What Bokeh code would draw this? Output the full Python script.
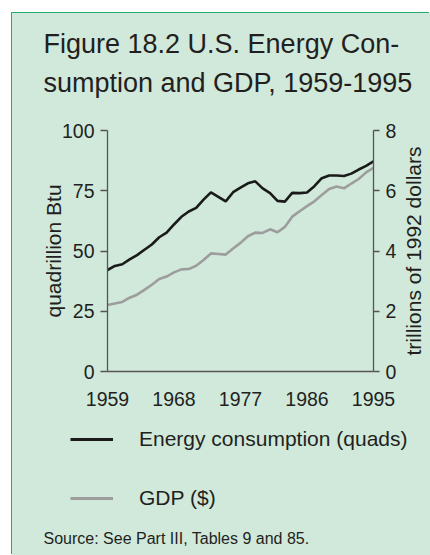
import math
from bokeh.plotting import figure
from bokeh.layouts import column, row
from bokeh.models import (Range1d, LinearAxis, FixedTicker, Legend, LegendItem, Label)
from bokeh.embed import file_html
from bokeh.resources import INLINE

# ---- data ----
years = list(range(1959, 1996))
energy_quads = [42.1, 43.8, 44.5, 46.5, 48.3, 50.5, 52.7, 55.7, 57.6, 61.0,
                64.2, 66.4, 67.9, 71.3, 74.3, 72.5, 70.6, 74.4, 76.3, 78.1,
                78.9, 76.0, 74.0, 70.8, 70.5, 74.1, 74.0, 74.3, 76.9, 80.2,
                81.3, 81.3, 81.1, 82.1, 83.8, 85.3, 87.2]
gdp_trillions = [2.21, 2.26, 2.31, 2.45, 2.55, 2.71, 2.88, 3.07, 3.15, 3.29,
                 3.39, 3.40, 3.51, 3.70, 3.92, 3.90, 3.88, 4.08, 4.27, 4.49,
                 4.61, 4.60, 4.72, 4.62, 4.80, 5.14, 5.32, 5.49, 5.65, 5.86,
                 6.06, 6.14, 6.08, 6.24, 6.39, 6.61, 6.76]
x_ticks = [1959, 1968, 1977, 1986, 1995]
left_ticks = [0, 25, 50, 75, 100]
right_ticks = [0, 2, 4, 6, 8]
title_lines = ["Figure 18.2  U.S. Energy Con-", "sumption and GDP, 1959-1995"]
left_label = "quadrillion Btu"
right_label = "trillions of 1992 dollars"
series_names = ["Energy consumption (quads)", "GDP ($)"]
source_text = "Source:  See Part III, Tables 9 and 85."

# ---- layout / style ----
FONT = "Liberation Sans"
BG = "#d0e9db"
TXT = "#231f20"
AX = "#555555"
C_ENERGY = "#1a1a1a"
C_GDP = "#9d9d9d"
W = 418
W_SIDE = 30
W_MAIN = W - W_SIDE
H_TOP, H_MAIN, H_BOT = 103, 299, 140
FL, FT, FW, FH = 95, 14, 266, 241


def no_align(f):
    if "frame_align" in f.properties():
        f.frame_align = False
    return f


def blank_fig(w, h):
    f = figure(width=w, height=h, output_backend="svg", toolbar_location=None,
               x_range=Range1d(0, w), y_range=Range1d(0, h),
               x_axis_location=None, y_axis_location=None,
               min_border=0)
    f.background_fill_color = BG
    f.border_fill_color = BG
    f.outline_line_color = None
    f.grid.visible = False
    return no_align(f)


# ---- title ----
top = blank_fig(W, H_TOP)
for t, yb in zip(title_lines, [73, 34]):
    top.add_layout(Label(x=31, y=yb, text=t, text_align="left",
                         text_baseline="alphabetic", text_font=FONT,
                         text_font_size="27px", text_color=TXT))

# ---- main chart ----
main = figure(width=W_MAIN, height=H_MAIN, output_backend="svg", toolbar_location=None,
              x_range=Range1d(1959, 1995), y_range=Range1d(0, 100),
              min_border_left=FL, min_border_top=FT,
              min_border_right=W_MAIN - FL - FW, min_border_bottom=H_MAIN - FT - FH)
no_align(main)
main.background_fill_color = BG
main.border_fill_color = BG
main.outline_line_color = None
main.grid.visible = False
main.extra_y_ranges = {"gdp": Range1d(0, 8)}

main.line(years, energy_quads, line_color=C_ENERGY, line_width=2.6)
main.line(years, gdp_trillions, line_color=C_GDP, line_width=2.6, y_range_name="gdp")


def style_axis(ax, size="19.5px"):
    ax.axis_line_color = AX
    ax.axis_line_width = 1.3
    ax.major_tick_line_color = AX
    ax.major_tick_line_width = 1.3
    ax.minor_tick_line_color = None
    ax.major_label_text_font = FONT
    ax.major_label_text_font_size = size
    ax.major_label_text_color = TXT
    ax.axis_label_text_font = FONT
    ax.axis_label_text_font_size = "21px"
    ax.axis_label_text_font_style = "normal"
    ax.axis_label_text_color = TXT


xa = main.xaxis[0]
xa.ticker = FixedTicker(ticks=x_ticks)
style_axis(xa)
xa.major_tick_out = 0
xa.major_tick_in = 0
xa.major_label_standoff = 20

ya = main.yaxis[0]
ya.ticker = FixedTicker(ticks=left_ticks)
style_axis(ya)
ya.major_tick_out = 7
ya.major_tick_in = 0
ya.major_label_standoff = 6
ya.axis_label = left_label
ya.axis_label_standoff = -6

ra = LinearAxis(y_range_name="gdp", ticker=FixedTicker(ticks=right_ticks))
style_axis(ra)
ra.major_tick_out = 6
ra.major_tick_in = 0
ra.major_label_standoff = 6
main.add_layout(ra, "right")

# right axis title, reading bottom-to-top, in a narrow strip beside the chart
side = blank_fig(W_SIDE, H_MAIN)
side.add_layout(Label(x=12.5, y=H_MAIN - FT - FH / 2, text=right_label,
                      angle=math.pi / 2, text_align="center", text_baseline="middle",
                      text_font=FONT, text_font_size="21px", text_color=TXT))

# ---- legend + source ----
bot = blank_fig(W, H_BOT)
# legend renderers carry the series but fall outside this strip's ranges
l1 = bot.line(years, energy_quads, line_color=C_ENERGY, line_width=3)
l2 = bot.line(years, gdp_trillions, line_color=C_GDP, line_width=3)
legend = Legend(items=[LegendItem(label=series_names[0], renderers=[l1]),
                       LegendItem(label=series_names[1], renderers=[l2])],
                location=(58, 44), orientation="vertical",
                background_fill_alpha=0, border_line_color=None,
                padding=0, margin=0, spacing=33,
                glyph_width=43, glyph_height=26, label_height=26,
                label_standoff=26, label_text_font=FONT,
                label_text_font_size="21px", label_text_color=TXT)
bot.add_layout(legend)
bot.add_layout(Label(x=31, y=17, text=source_text, text_align="left",
                     text_baseline="alphabetic", text_font=FONT,
                     text_font_size="16px", text_color=TXT))

p = column(top, row(main, side, spacing=0), bot, spacing=0)
p.margin = (13, 0, 0, 12)
p.styles = {"box-shadow": "-1px -1px 0 0 #22b06c", "background-color": BG}

open("out.html", "w").write(file_html(p, INLINE))
